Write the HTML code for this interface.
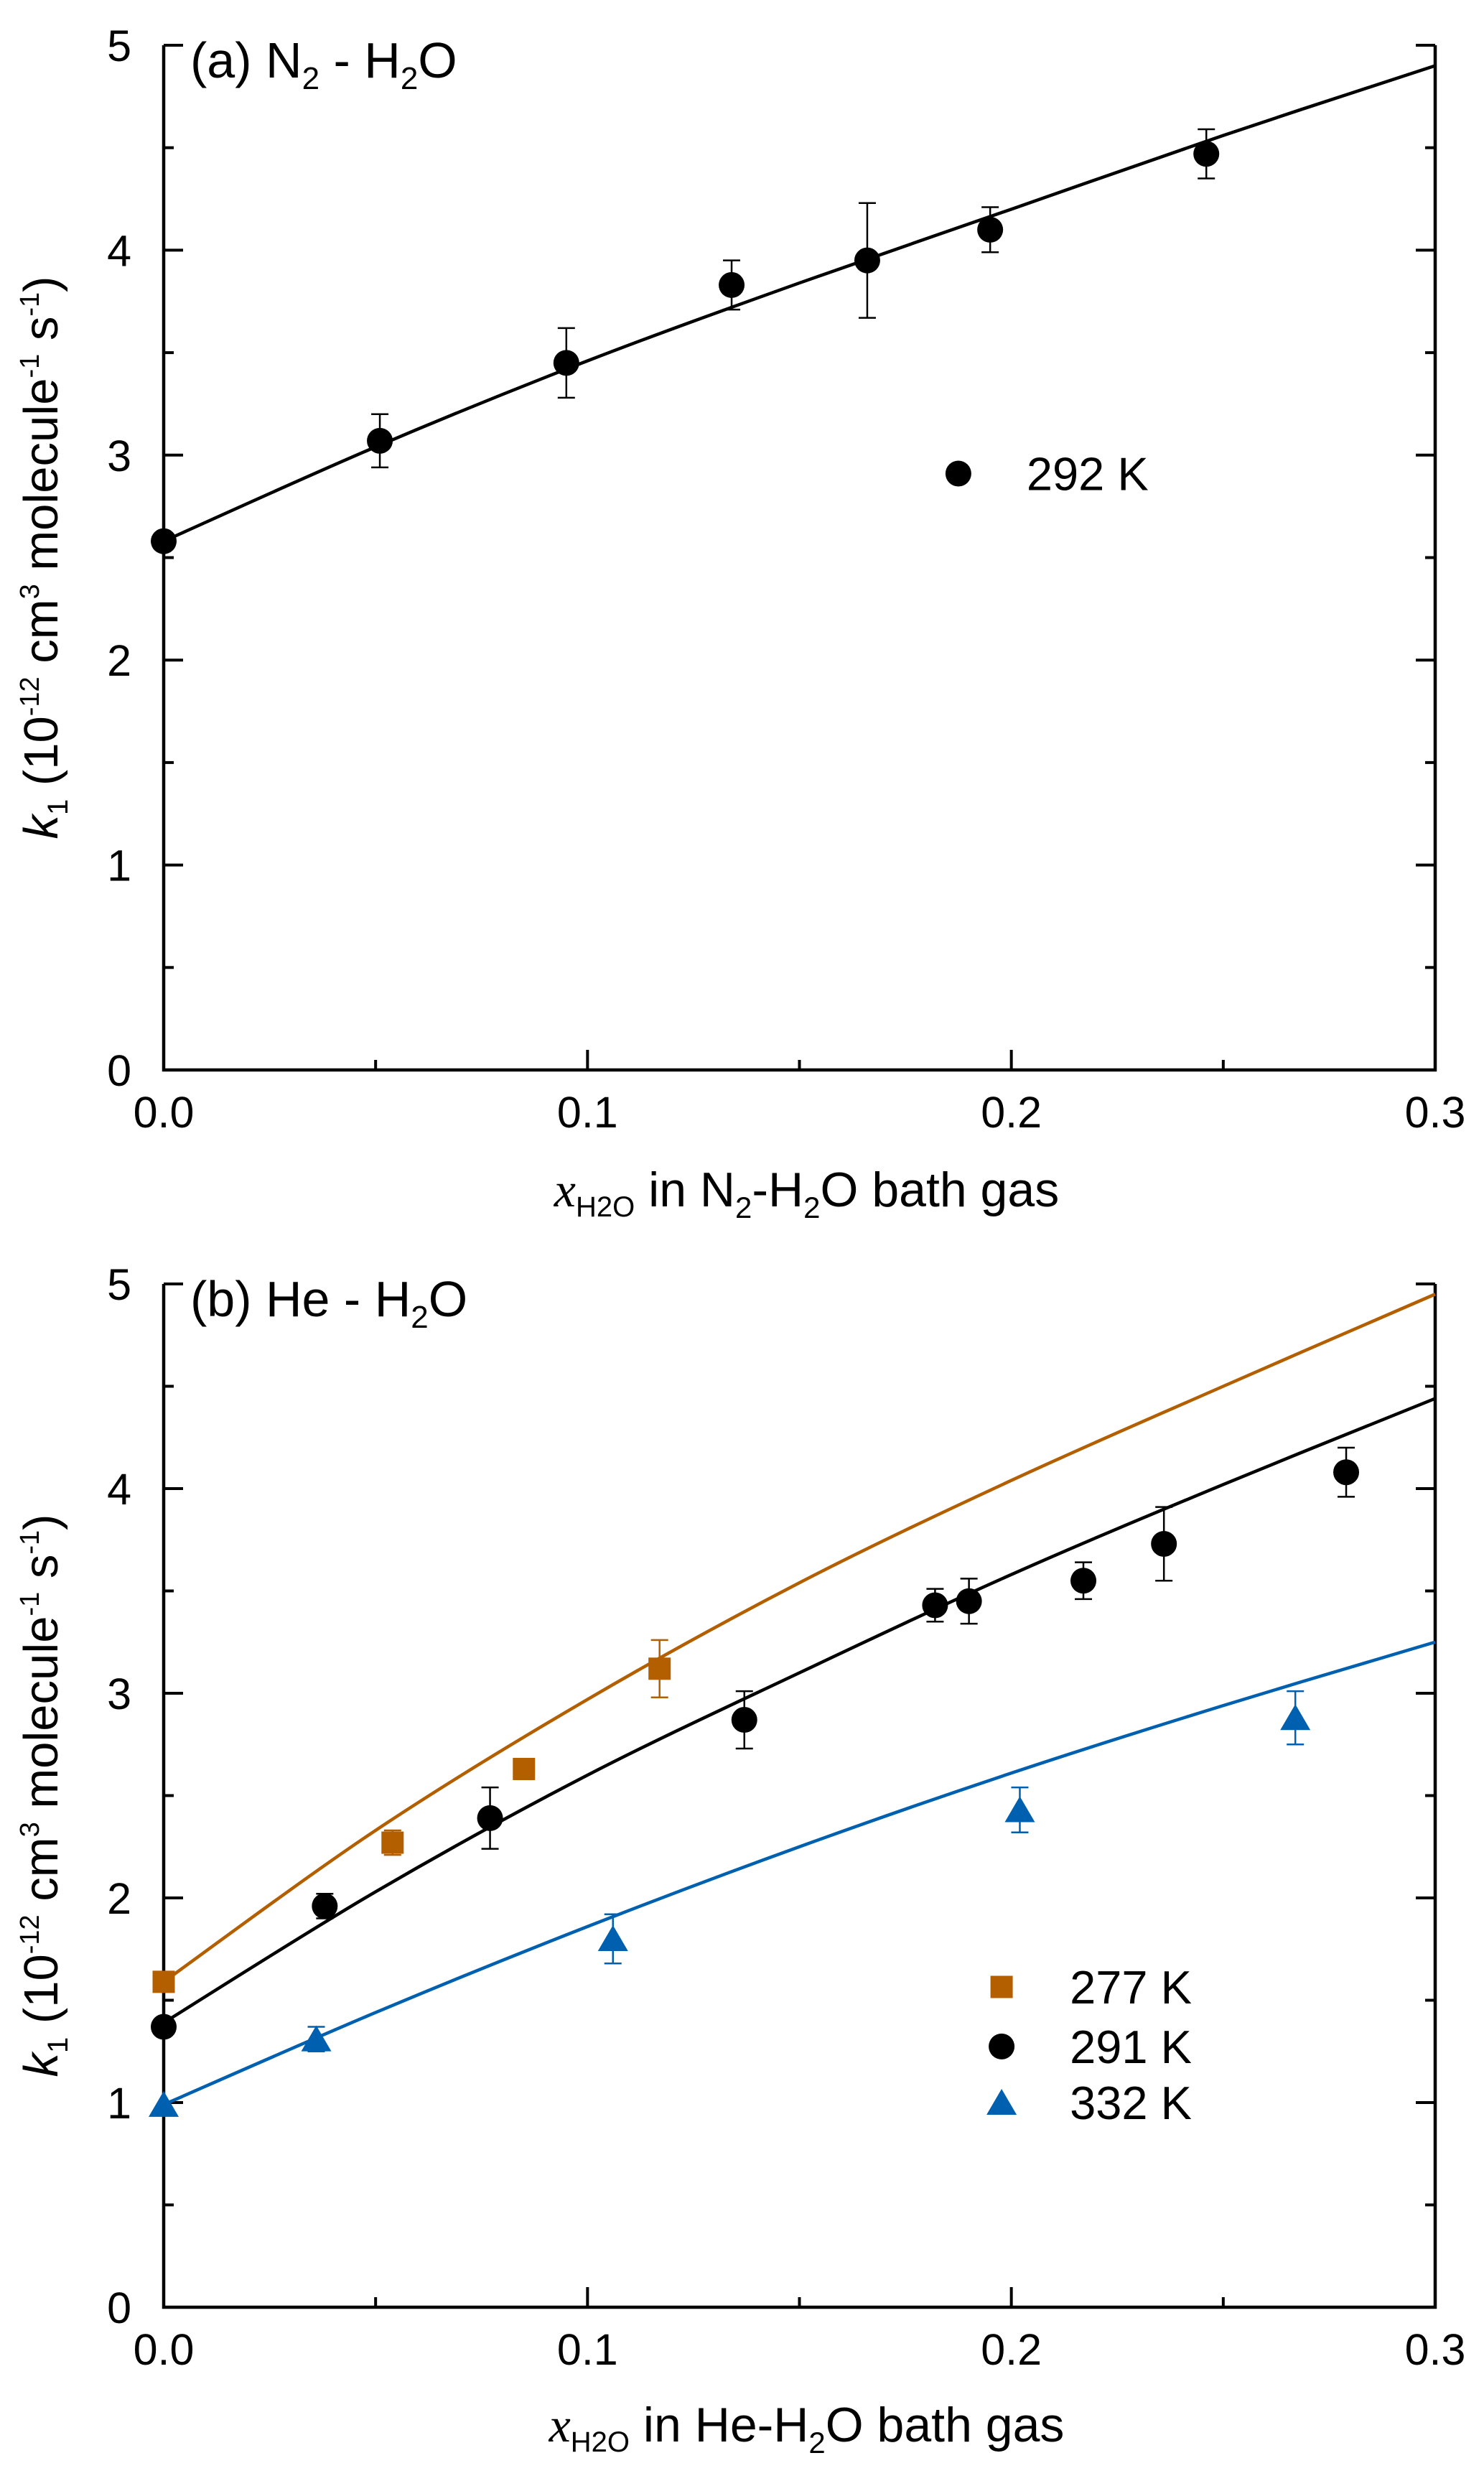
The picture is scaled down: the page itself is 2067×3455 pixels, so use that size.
<!DOCTYPE html>
<html><head><meta charset="utf-8"><style>
html,body{margin:0;padding:0;background:#fff;}
svg{display:block;font-family:"Liberation Sans",Arial,sans-serif;}
</style></head><body>
<svg id="fig" width="2067" height="3455" viewBox="0 0 2067 3455" xmlns="http://www.w3.org/2000/svg"></svg>
<script>
// Panel (a) N2-H2O data
const aX = [0, 0.051, 0.095, 0.134, 0.166, 0.195, 0.246];
const aY = [2.58, 3.07, 3.45, 3.83, 3.95, 4.10, 4.47];
const aErr = [0, 0.13, 0.17, 0.12, 0.28, 0.11, 0.12];
const aFitX = [0, 0.05, 0.1, 0.15, 0.2, 0.25, 0.3];
const aFitY = [2.58, 3.04, 3.46, 3.84, 4.20, 4.56, 4.90];
// Panel (b) He-H2O data
const b277X = [0, 0.054, 0.085, 0.117];
const b277Y = [1.59, 2.27, 2.63, 3.12];
const b277Err = [0, 0.06, 0.05, 0.14];
const b291X = [0, 0.038, 0.077, 0.137, 0.182, 0.190, 0.217, 0.236, 0.279];
const b291Y = [1.37, 1.96, 2.39, 2.87, 3.43, 3.45, 3.55, 3.73, 4.08];
const b291Err = [0, 0.06, 0.15, 0.14, 0.08, 0.11, 0.09, 0.18, 0.12];
const b332X = [0, 0.036, 0.106, 0.202, 0.267];
const b332Y = [0.99, 1.31, 1.80, 2.43, 2.88];
const b332Err = [0, 0.06, 0.12, 0.11, 0.13];
const fitX = [0, 0.05, 0.1, 0.15, 0.2, 0.25, 0.3];
const fit277 = [1.59, 2.33, 2.97, 3.54, 4.04, 4.50, 4.95];
const fit291 = [1.39, 2.03, 2.60, 3.10, 3.58, 4.02, 4.44];
const fit332 = [0.99, 1.44, 1.86, 2.25, 2.61, 2.94, 3.25];
const xTicks = [0, 0.1, 0.2, 0.3];
const xTickLabels = ["0.0", "0.1", "0.2", "0.3"];
const yTicks = [0, 1, 2, 3, 4, 5];

const NS = "http://www.w3.org/2000/svg";
const svg = document.getElementById('fig');
const ORANGE = "#b35f00", BLUE = "#0060b0";
function mk(tag, attrs, parent) {
  const e = document.createElementNS(NS, tag);
  for (const k in attrs) e.setAttribute(k, attrs[k]);
  (parent || svg).appendChild(e);
  return e;
}

function panel(id, top, bottom, title, titleY) {
  const L = 228, R = 1999;
  const g = mk('g', {});
  
  
  const sx = v => L + v / 0.3 * (R - L);
  const sy = v => bottom - v / 5 * (bottom - top);
  const frame = mk('path', {d: `M${L},${top} V${bottom} H${R} V${top}`, fill: 'none', stroke: '#000', 'stroke-width': 4.5}, g);
  
  
  for (let v = 0; v <= 5.001; v += 0.5) {
    const major = Math.abs(v - Math.round(v)) < 1e-6;
    const len = major ? 27 : 14;
    const t1 = mk('line', {x1: L, x2: L + len, y1: sy(v), y2: sy(v), stroke: '#000', 'stroke-width': 4}, g);
    
    
    const t2 = mk('line', {x1: R, x2: R - len, y1: sy(v), y2: sy(v), stroke: '#000', 'stroke-width': 4}, g);
    
    
  }
  yTicks.forEach(v => {
    const t = mk('text', {x: L - 45, y: sy(v) + 22, 'font-size': 61, 'text-anchor': 'end'}, g);
    t.textContent = v;
    
    
  });
  for (let v = 0; v <= 0.3001; v += 0.05) {
    const major = Math.abs(v * 10 - Math.round(v * 10)) < 1e-6;
    const len = major ? 28 : 14;
    const t = mk('line', {x1: sx(v), x2: sx(v), y1: bottom, y2: bottom - len, stroke: '#000', 'stroke-width': 4}, g);
    
    
  }
  xTicks.forEach((v, i) => {
    const t = mk('text', {x: sx(v), y: bottom + 80, 'font-size': 61, 'text-anchor': 'middle'}, g);
    t.textContent = xTickLabels[i];
    
    
  });
  const pl = mk('text', {x: L + 37, y: top + 45, 'font-size': 70}, g);
  pl.innerHTML = title;
  
  
  const xt = mk('text', {x: (L + R) / 2 + 10, y: titleY, 'font-size': 68, 'text-anchor': 'middle'}, g);
  
  
  const cy = (top + bottom) / 2;
  const yt = mk('text', {x: 0, y: 0, 'font-size': 67, 'text-anchor': 'middle', transform: `translate(80,${cy}) rotate(-90)`}, g);
  yt.innerHTML = `<tspan font-style="italic">k</tspan><tspan font-size="40" dy="14">1</tspan><tspan dy="-14"> (10</tspan><tspan font-size="38" dy="-26">-12</tspan><tspan dy="26"> cm</tspan><tspan font-size="38" dy="-26">3</tspan><tspan dy="26"> molecule</tspan><tspan font-size="38" dy="-26">-1</tspan><tspan dy="26"> s</tspan><tspan font-size="38" dy="-26">-1</tspan><tspan dy="26">)</tspan>`;
  
  
  return {g, sx, sy, xt};
}

function fitLine(p, xs, ys, color, name) {
  const P = xs.map((x, i) => [p.sx(x), p.sy(ys[i])]);
  let d = 'M' + P[0][0] + ',' + P[0][1];
  for (let i = 0; i < P.length - 1; i++) {
    const p0 = P[Math.max(i - 1, 0)], p1 = P[i], p2 = P[i + 1], p3 = P[Math.min(i + 2, P.length - 1)];
    const c1 = [p1[0] + (p2[0] - p0[0]) / 6, p1[1] + (p2[1] - p0[1]) / 6];
    const c2 = [p2[0] - (p3[0] - p1[0]) / 6, p2[1] - (p3[1] - p1[1]) / 6];
    d += ` C${c1[0]},${c1[1]} ${c2[0]},${c2[1]} ${p2[0]},${p2[1]}`;
  }
  const e = mk('path', {d, fill: 'none', stroke: color, 'stroke-width': 4.5}, p.g);
  
  
}
function marker(p, parent, shape, cx, cy, color) {
  if (shape === 'circle') return mk('circle', {cx, cy, r: 18, fill: color}, parent);
  if (shape === 'square') return mk('rect', {x: cx - 15.5, y: cy - 15.5, width: 31, height: 31, fill: color}, parent);
  return mk('polygon', {points: `${cx},${cy - 19} ${cx + 21},${cy + 17} ${cx - 21},${cy + 17}`, fill: color}, parent);
}
function series(p, xs, ys, errs, color, shape, name) {
  const sg = mk('g', {}, p.g);
  
  
  xs.forEach((x, i) => {
    const cx = p.sx(x), cy = p.sy(ys[i]);
    if (errs[i] > 0) {
      const y1 = p.sy(ys[i] + errs[i]), y2 = p.sy(ys[i] - errs[i]);
      const eb = mk('path', {d: `M${cx},${y1} V${y2} M${cx - 12},${y1} H${cx + 12} M${cx - 12},${y2} H${cx + 12}`, stroke: color, 'stroke-width': 2.5, fill: 'none'}, sg);
      
      
    }
    const m = marker(p, sg, shape, cx, cy, color);
    
    
  });
}
function legendEntry(p, x, y, shape, color, label) {
  const lg = mk('g', {}, p.g);
  
  
  const cx = p.sx(x), cy = p.sy(y);
  const m = marker(p, lg, shape, cx, cy, color);
  
  
  const t = mk('text', {x: cx + 95, y: cy + 23, 'font-size': 65}, lg);
  t.textContent = label;
  
  
}

const pa = panel('a', 63, 1490, '(a) N<tspan font-size="44" dy="16">2</tspan><tspan dy="-16"> - H</tspan><tspan font-size="44" dy="16">2</tspan><tspan dy="-16">O</tspan>', 1680);
pa.xt.innerHTML = `<tspan font-family="Liberation Serif" font-style="italic">x</tspan><tspan font-size="40" dy="14">H2O</tspan><tspan dy="-14"> in N</tspan><tspan font-size="42" dy="16">2</tspan><tspan dy="-16">-H</tspan><tspan font-size="42" dy="16">2</tspan><tspan dy="-16">O bath gas</tspan>`;
fitLine(pa, aFitX, aFitY, '#000', 'fit-line-292k');
series(pa, aX, aY, aErr, '#000', 'circle', 'series-292k');
legendEntry(pa, 0.1875, 2.91, 'circle', '#000', '292 K');

const pb = panel('b', 1788, 3213, '(b) He - H<tspan font-size="44" dy="16">2</tspan><tspan dy="-16">O</tspan>', 3400);
pb.xt.innerHTML = `<tspan font-family="Liberation Serif" font-style="italic">x</tspan><tspan font-size="40" dy="14">H2O</tspan><tspan dy="-14"> in He-H</tspan><tspan font-size="42" dy="16">2</tspan><tspan dy="-16">O bath gas</tspan>`;
fitLine(pb, fitX, fit277, ORANGE, 'fit-line-277k');
fitLine(pb, fitX, fit291, '#000', 'fit-line-291k');
fitLine(pb, fitX, fit332, BLUE, 'fit-line-332k');
series(pb, b277X, b277Y, b277Err, ORANGE, 'square', 'series-277k');
series(pb, b291X, b291Y, b291Err, '#000', 'circle', 'series-291k');
series(pb, b332X, b332Y, b332Err, BLUE, 'triangle', 'series-332k');
legendEntry(pb, 0.1977, 1.565, 'square', ORANGE, '277 K');
legendEntry(pb, 0.1977, 1.274, 'circle', '#000', '291 K');
legendEntry(pb, 0.1977, 1.0, 'triangle', BLUE, '332 K');
</script>
</body></html>
